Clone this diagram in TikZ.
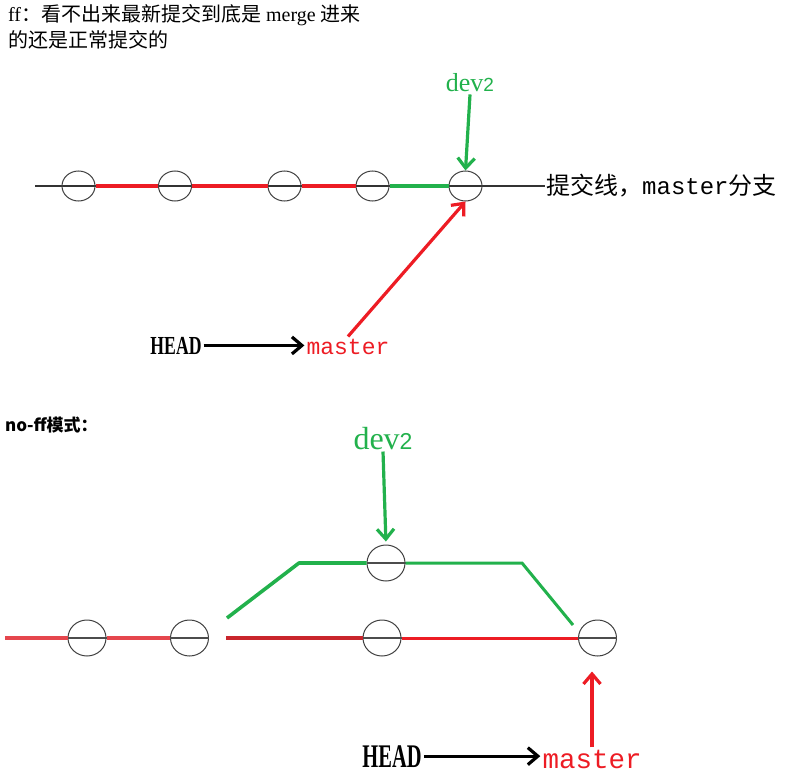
\documentclass[tikz,border=0pt]{standalone}
\usepackage{fontspec}
\usepackage{graphicx}
\setmainfont{Liberation Serif}
\setsansfont{Liberation Sans}
\setmonofont{Liberation Mono}
\newfontfamily\zh{Noto Sans CJK SC}
\usetikzlibrary{arrows.meta,shapes.geometric}
\definecolor{GitRed}{HTML}{ED1C24}
\definecolor{GitDark}{HTML}{C9252C}
\definecolor{GitPale}{HTML}{E5464D}
\definecolor{GitGreen}{HTML}{22B14C}
\newcommand{\fs}[1]{\fontsize{#1}{#1}\selectfont}

\begin{document}
\begin{tikzpicture}[x=1pt,y=-1pt,
  >={Straight Barb[length=10pt,width=17pt]},
  commit/.style={draw=black!75,ellipse,line width=1pt,inner sep=0pt,
                 minimum width=33pt,minimum height=30pt},
  bigcommit/.style={commit,minimum width=38pt,minimum height=36pt},
  trunk/.style={black!80,line width=1.3pt},
  chord/.style={black!70,line width=1.3pt},
  redline/.style={GitRed,line width=3.6pt},
  greenline/.style={GitGreen,line width=3.6pt},
  ptr/.style={->,line width=3.2pt},
  refname/.style={text=GitRed,inner sep=2pt},
  headname/.style={inner sep=2pt},
]
\useasboundingbox (0,0) rectangle (791,778);

% captions
\node[anchor=base west,inner sep=0pt,font=\fs{20}] (cap1) at (8,22)
  {ff{\zh ：看不出来最新提交到底是} merge {\zh 进来}};
\node[anchor=base west,inner sep=0pt,font=\fs{20}] (cap2) at (8,48)
  {\zh 的还是正常提交的};

% fast forward: one line of commits
\coordinate (tstart) at (35,186);
\coordinate (tend) at (545,186);
\draw[trunk] (tstart) -- (tend);
\node[commit] (c1) at (78.5,186) {};
\node[commit] (c2) at (175,186) {};
\node[commit] (c3) at (284.5,186) {};
\node[commit] (c4) at (372.5,186) {};
\node[commit] (c5) at (465.5,186) {};
\draw[redline] (c1.east) -- (c2.west);
\draw[redline] (c2.east) -- (c3.west);
\draw[redline] (c3.east) -- (c4.west);
\draw[greenline] (c4.east) -- (c5.west);
\node[anchor=west,inner sep=1pt,font=\fs{24}] (trunklbl) at (tend)
  {{\zh 提交线，}{\ttfamily master}{\zh 分支}};

\node[anchor=base,text=GitGreen,font=\fs{26},inner sep=2pt] (dv) at (470,92)
  {dev{\sffamily\fs{19}2}};
\draw[ptr,GitGreen] (dv.south) -- (c5.north);

\node[headname,anchor=base,font=\bfseries\fs{26}] (head) at (176,354) {\scalebox{0.68}[1]{HEAD}};
\node[refname,anchor=base,font=\ttfamily\fs{23}] (mst) at (348,354) {master};
\draw[ptr,black] (head.east) -- (head.east -| mst.west);
\draw[ptr,GitRed] (mst.north) -- (c5.south);

% no fast forward: merge commit on the branch line
\node[anchor=base west,inner sep=0pt,font=\zh\bfseries\fs{17}] (cap3) at (5,431)
  {no-ff模式：};

\coordinate (b0) at (5,638);
\coordinate (rs) at (226,638);
\coordinate (gs) at (227,618);
\coordinate (gk) at (299,563);
\coordinate (gr) at (522,563);
\coordinate (ge) at (573,625);
\node[bigcommit] (n1) at (87,638) {};
\node[bigcommit] (n2) at (189.5,638) {};
\node[bigcommit] (n3) at (382,638) {};
\node[bigcommit] (n4) at (597.5,638) {};
\node[bigcommit] (nd) at (386,563) {};
\foreach \n in {n1,n2,n3,n4,nd}
  \draw[chord] (\n.west) -- (\n.east);
\draw[GitPale,line width=4.5pt] (b0) -- (n1.west);
\draw[GitPale,line width=4.5pt] (n1.east) -- (n2.west);
\draw[GitDark,line width=4.5pt] (rs) -- (n3.west);
\draw[GitRed,line width=3pt] (n3.east) -- (n4.west);
\draw[greenline,line join=round] (gs) -- (gk) -- (nd.west);
\draw[GitGreen,line width=3pt] (nd.east) -- (gr) -- (ge);

\node[anchor=base,text=GitGreen,font=\fs{32},inner sep=2pt] (dv2) at (383,449)
  {dev{\sffamily\fs{23}2}};
\draw[ptr,GitGreen,shorten >=3pt] (dv2.south) -- (nd.north);

\node[headname,anchor=base,font=\bfseries\fs{33}] (head2) at (392,767) {\scalebox{0.62}[1]{HEAD}};
\node[refname,anchor=base,font=\ttfamily\fs{27.5}] (mst2) at (592,768) {master};
\draw[ptr,black] (head2.east) -- (head2.east -| mst2.west);
\draw[ptr,GitRed,shorten >=15pt] (mst2.north) -- (mst2.north |- n4.south);
\end{tikzpicture}
\end{document}
